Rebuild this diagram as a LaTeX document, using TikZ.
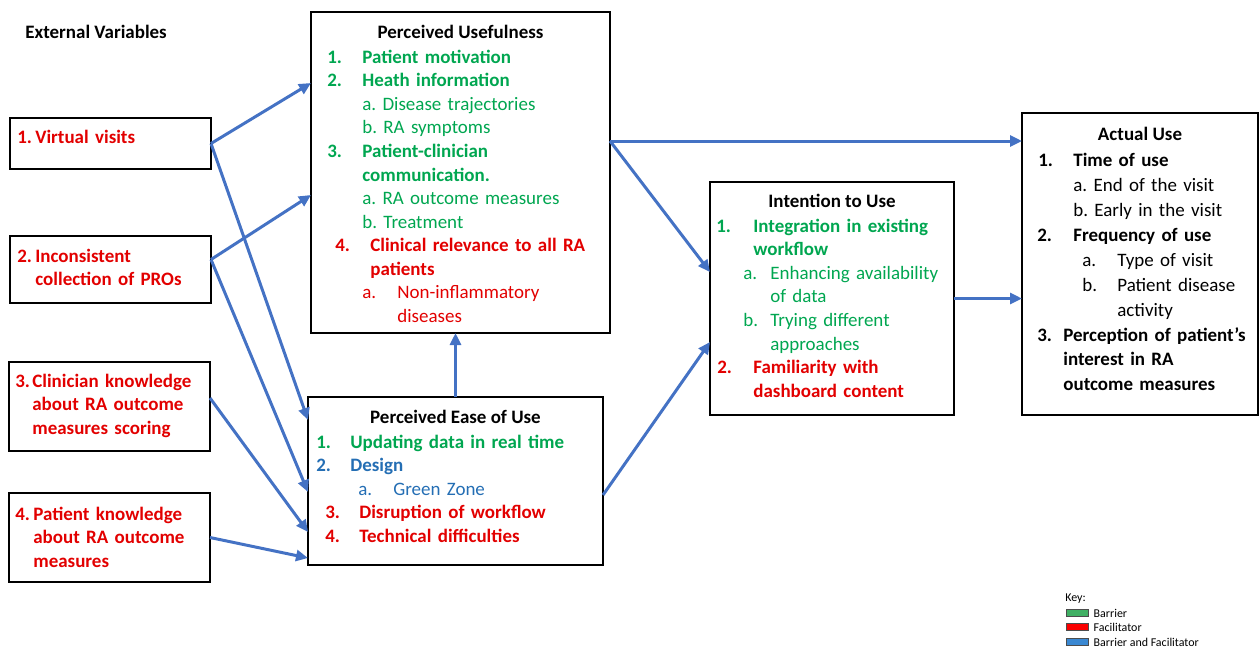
\documentclass[tikz,border=0pt]{standalone}
\usepackage{fontspec}
\setmainfont{Carlito}
\usepackage{xcolor}
\usetikzlibrary{positioning, arrows.meta, calc}
\definecolor{cG}{RGB}{0,166,80}
\definecolor{cR}{RGB}{226,0,0}
\definecolor{cB}{RGB}{36,110,180}
\definecolor{cA}{RGB}{68,114,196}
\definecolor{kG}{RGB}{64,176,100}
\definecolor{kR}{RGB}{250,0,0}
\definecolor{kB}{RGB}{58,136,210}
\setlength{\parindent}{0pt}
\frenchspacing
\newcommand{\lbl}[3]{\hspace*{#1}\makebox[#2][l]{#3}}

\tikzset{
  box/.style={draw, line width=1.1pt, outer sep=0pt, inner sep=0pt, anchor=north west},
  head/.style={font=\fontsize{10.8pt}{13.4pt}\selectfont\bfseries, inner sep=0pt, anchor=base},
  txt/.style={anchor=north west, inner sep=0pt, align=left,
    font=\fontsize{10.8pt}{13.4pt}\selectfont, execute at begin node=\strut},
  arr/.style={draw=cA, line width=1.7pt, -{Triangle[length=0.24cm, width=0.22cm]}},
  swatch/.style={draw=black!70, line width=0.4pt, minimum width=0.44cm, minimum height=0.15cm, inner sep=0pt},
  keytxt/.style={font=\fontsize{6.8pt}{8pt}\selectfont, inner sep=0pt, anchor=west}
}

\begin{document}
\begin{tikzpicture}
    \useasboundingbox (0,0) rectangle (25.2,-12.98);

    % External variables
    \node[head, anchor=base west] (ext) at (0.5,-0.76) {External Variables};
    \node[box, minimum width=4.02cm, minimum height=1.02cm] (ev1) at (0.2,-2.36) {};
    \node[box, minimum width=4.02cm, minimum height=1.34cm] (ev2) at (0.2,-4.72) {};
    \node[box, minimum width=4.02cm, minimum height=1.78cm] (ev3) at (0.18,-7.24) {};
    \node[box, minimum width=4.02cm, minimum height=1.78cm] (ev4) at (0.18,-9.86) {};

    \node[txt, text width=4cm, text=cR, font=\fontsize{10.8pt}{13.4pt}\selectfont\bfseries] (ev1T) at ([yshift=-0.17cm]ev1.north west) {%
      \lbl{0.14cm}{0.36cm}{1.}Virtual visits};
    \node[txt, text width=4cm, text=cR, font=\fontsize{10.8pt}{13.4pt}\selectfont\bfseries] (ev2T) at ([yshift=-0.19cm]ev2.north west) {%
      \lbl{0.14cm}{0.36cm}{2.}Inconsistent\\
      \hspace*{0.5cm}collection of PROs};
    \node[txt, text width=4cm, text=cR, font=\fontsize{10.8pt}{13.4pt}\selectfont\bfseries] (ev3T) at ([yshift=-0.17cm]ev3.north west) {%
      \lbl{0.12cm}{0.34cm}{3.}Clinician knowledge\\
      \hspace*{0.46cm}about RA outcome\\
      \hspace*{0.46cm}measures scoring};
    \node[txt, text width=4cm, text=cR, font=\fontsize{10.8pt}{13.4pt}\selectfont\bfseries] (ev4T) at ([yshift=-0.21cm]ev4.north west) {%
      \lbl{0.12cm}{0.36cm}{4.}Patient knowledge\\
      \hspace*{0.48cm}about RA outcome\\
      \hspace*{0.48cm}measures};

    % Perceived usefulness
    \node[box, minimum width=5.98cm, minimum height=6.42cm] (pu) at (6.22,-0.24) {};
    \node[head] (puH) at ([yshift=-0.52cm]pu.north) {Perceived Usefulness};
    \node[txt, text width=5.9cm] (puT) at ([yshift=-0.69cm]pu.north west) {%
      \color{cG}\bfseries
      \lbl{0.32cm}{0.7cm}{1.}Patient motivation\\
      \lbl{0.32cm}{0.7cm}{2.}Heath information\\
      \mdseries\hspace*{1.02cm}a. Disease trajectories\\
      \hspace*{1.02cm}b. RA symptoms\\
      \bfseries\lbl{0.32cm}{0.7cm}{3.}Patient-clinician\\
      \hspace*{1.02cm}communication.\\
      \mdseries\hspace*{1.02cm}a. RA outcome measures\\
      \hspace*{1.02cm}b. Treatment\\
      \color{cR}\bfseries\lbl{0.48cm}{0.7cm}{4.}Clinical relevance to all RA\\
      \hspace*{1.18cm}patients\\
      \mdseries\lbl{1.02cm}{0.7cm}{a.}Non-inflammatory\\
      \hspace*{1.72cm}diseases};

    % Perceived ease of use
    \node[box, minimum width=5.9cm, minimum height=3.36cm] (peou) at (6.16,-7.94) {};
    \node[head] (peouH) at ([yshift=-0.52cm]peou.north) {Perceived Ease of Use};
    \node[txt, text width=5.8cm] (peouT) at ([yshift=-0.69cm]peou.north west) {%
      \bfseries\color{cG}\lbl{0.16cm}{0.68cm}{1.}Updating data in real time\\
      \color{cB}\lbl{0.16cm}{0.68cm}{2.}Design\\
      \mdseries\lbl{1.0cm}{0.7cm}{a.}Green Zone\\
      \bfseries\color{cR}\lbl{0.34cm}{0.68cm}{3.}Disruption of workflow\\
      \lbl{0.34cm}{0.68cm}{4.}Technical difficulties};

    % Intention to use
    \node[box, minimum width=4.88cm, minimum height=4.66cm] (itu) at (14.2,-3.64) {};
    \node[head] (ituH) at ([yshift=-0.5cm]itu.north) {Intention to Use};
    \node[txt, text width=4.8cm] (ituT) at ([yshift=-0.67cm]itu.north west) {%
      \bfseries\color{cG}\lbl{0.12cm}{0.74cm}{1.}Integration in existing\\
      \hspace*{0.86cm}workflow\\
      \mdseries\lbl{0.66cm}{0.54cm}{a.}Enhancing availability\\
      \hspace*{1.2cm}of data\\
      \lbl{0.66cm}{0.54cm}{b.}Trying different\\
      \hspace*{1.2cm}approaches\\
      \bfseries\color{cR}\lbl{0.14cm}{0.72cm}{2.}Familiarity with\\
      \hspace*{0.86cm}dashboard content};

    % Actual use
    \node[box, minimum width=4.72cm, minimum height=6.04cm] (au) at (20.44,-2.26) {};
    \node[head] (auH) at ([yshift=-0.54cm]au.north) {Actual Use};
    \node[txt, text width=4.7cm, font=\fontsize{10.8pt}{14.2pt}\selectfont] (auT) at ([yshift=-0.71cm]au.north west) {%
      \bfseries\lbl{0.32cm}{0.7cm}{1.}Time of use\\
      \mdseries\hspace*{1.02cm}a. End of the visit\\
      \hspace*{1.02cm}b. Early in the visit\\
      \bfseries\lbl{0.3cm}{0.72cm}{2.}Frequency of use\\
      \mdseries\lbl{1.2cm}{0.7cm}{a.}Type of visit\\
      \lbl{1.2cm}{0.7cm}{b.}Patient disease\\
      \hspace*{1.9cm}activity\\
      \bfseries\lbl{0.3cm}{0.52cm}{3.}Perception of patient’s\\
      \hspace*{0.82cm}interest in RA\\
      \hspace*{0.82cm}outcome measures};

    % Arrows from external variables
    \draw[arr] (ev1.east) -- ([yshift=1.79cm]pu.west);
    \draw[arr] (ev1.east) -- ([yshift=1.22cm]peou.west);
    \draw[arr] ([yshift=0.2cm]ev2.east) -- ([yshift=-0.45cm]pu.west);
    \draw[arr] ([yshift=0.2cm]ev2.east) -- ([yshift=-0.22cm]peou.west);
    \draw[arr] ([yshift=0.17cm]ev3.east) -- ([yshift=-1.02cm]peou.west);
    \draw[arr] (ev4.east) -- ([yshift=-1.54cm]peou.west);

    % Arrows between the model parts
    \draw[arr] (peou.north) -- (peou.north |- pu.south);
    \draw[arr] ([yshift=0.63cm]pu.east) coordinate (puR) -- (puR -| au.west);
    \draw[arr] (puR) -- ([yshift=0.53cm]itu.west);
    \draw[arr] ([yshift=-0.28cm]peou.east) -- ([yshift=-0.87cm]itu.west);
    \draw[arr] (itu.east) -- (itu.east -| au.west);

    % Key
    \node[keytxt] (key) at (21.3,-11.98) {Key:};
    \node[swatch, fill=kG] (kg) at (21.54,-12.26) {};
    \node[swatch, fill=kR] (kr) at (21.54,-12.54) {};
    \node[swatch, fill=kB] (kb) at (21.54,-12.84) {};
    \node[keytxt, right=0.1cm of kg] (kgT) {Barrier};
    \node[keytxt, right=0.1cm of kr] (krT) {Facilitator};
    \node[keytxt, right=0.1cm of kb] (kbT) {Barrier and Facilitator};
\end{tikzpicture}
\end{document}
